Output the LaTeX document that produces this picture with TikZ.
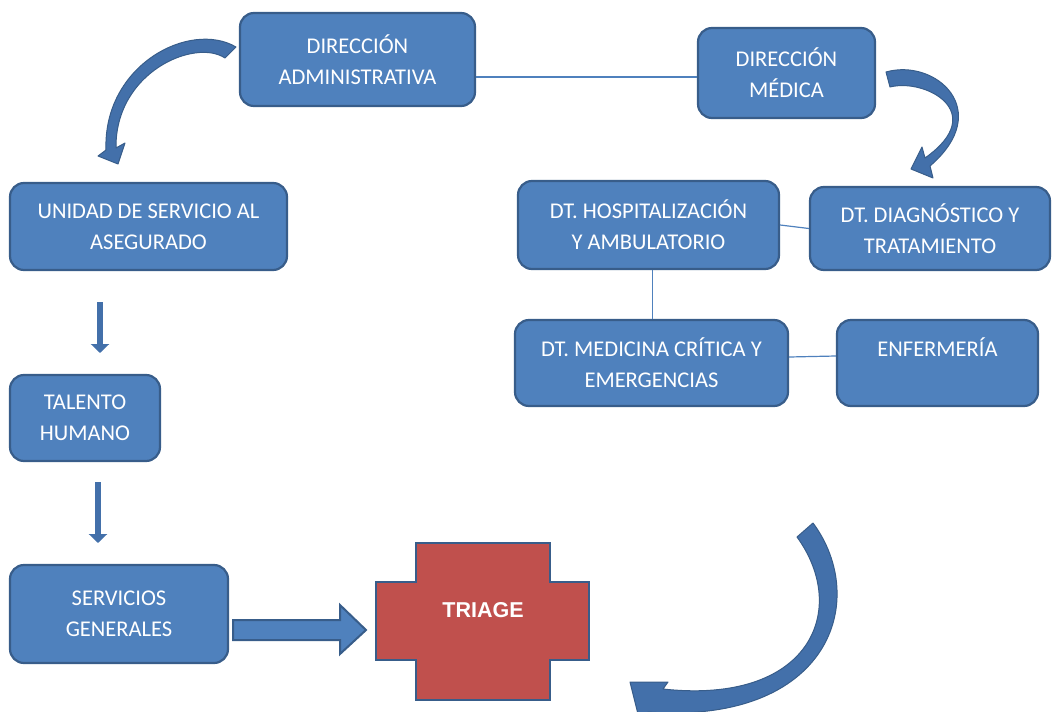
\documentclass[tikz,border=0pt]{standalone}
\usepackage{fontspec}
\setmainfont{Carlito}
\newfontfamily\arialb{Liberation Sans}
\usetikzlibrary{calc,arrows.meta}
\definecolor{boxblue}{HTML}{4F81BD}
\definecolor{boxedge}{HTML}{385D8A}
\definecolor{arcblue}{HTML}{4370AA}
\definecolor{triagered}{HTML}{C0504D}
\begin{document}
\begin{tikzpicture}[x=1pt,y=-1pt,
  box/.style={draw=boxedge, line width=2.2pt, fill=boxblue, rounded corners=14pt,
    text=white, align=center, font=\fontsize{22.5}{31}\selectfont, inner sep=0pt},
  link/.style={draw=boxblue, line width=1.2pt},
  curvarrow/.style={fill=arcblue, draw=boxedge, line width=1pt, line join=round},
  downarrow/.style={draw=arcblue, line width=6pt, -{Triangle[width=18pt,length=9pt]}, shorten >=0pt},
  blockarrow/.style={fill=boxblue, draw=boxedge, line width=2pt, line join=miter}]
\path[use as bounding box] (0,0) rectangle (1052,712);

% boxes
\node[box, minimum width=235pt, minimum height=93pt] (admin) at (357.5,59.5) {DIRECCIÓN\\ADMINISTRATIVA};
\node[box, minimum width=177pt, minimum height=90pt] (medica) at (786.5,73) {DIRECCIÓN\\MÉDICA};
\node[box, minimum width=277pt, minimum height=87pt] (unidad) at (148.5,226.5) {UNIDAD DE SERVICIO AL\\ASEGURADO};
\node[box, minimum width=150pt, minimum height=86pt] (talento) at (85,418) {TALENTO\\HUMANO};
\node[box, minimum width=218pt, minimum height=98pt] (servicios) at (119,614) {SERVICIOS\\GENERALES};
\node[box, minimum width=261pt, minimum height=88pt] (hosp) at (648.5,225) {DT. HOSPITALIZACIÓN\\Y AMBULATORIO};
\node[box, minimum width=240pt, minimum height=83pt] (diag) at (930,228.5) {DT. DIAGNÓSTICO Y\\TRATAMIENTO};
\node[box, minimum width=273pt, minimum height=86pt] (medicina) at (651.5,363) {DT. MEDICINA CRÍTICA Y\\EMERGENCIAS};
\node[box, minimum width=201pt, minimum height=86pt] (enf) at (937.5,363) {ENFERMERÍA\\\mbox{}};

% thin links
\draw[link] (admin.east |- {(0,77)}) -- (medica.west |- {(0,77)});
\draw[link] (hosp.east) -- (diag.west);
\draw[link] ($(hosp.south)+(4,0)$) -- ($(medicina.north)+(1,0)$);
\draw[link] ($(medicina.east)+(0,-6)$) -- ($(enf.west)+(0,-7)$);

% down arrows
\coordinate (d1a) at (100,302);
\coordinate (d1b) at (100,353);
\coordinate (d2a) at (98,482);
\coordinate (d2b) at (98,543);
\draw[downarrow] (d1a) -- (d1b);
\draw[downarrow] (d2a) -- (d2b);

% triage cross
\draw[fill=triagered, draw=boxedge, line width=2.5pt]
  (416,543) -- (550,543) -- (550,582) -- (589,582) -- (589,660) -- (550,660)
  -- (550,700) -- (416,700) -- (416,660) -- (376,660) -- (376,582) -- (416,582) -- cycle;
\node[text=white, font=\arialb\bfseries\fontsize{21.5}{26}\selectfont, inner sep=0pt] (triage) at (483,610) {TRIAGE};

% block arrow servicios -> triage
\draw[blockarrow] (233,620) -- (340,620) -- (340,605) -- (366,630) -- (340,654) -- (340,640) -- (233,640) -- cycle;

% curved arrow: admin -> unidad
\draw[curvarrow] (236,47) .. controls (190,20) and (103,65) .. (106,150)
  -- (98,156) -- (118,164) -- (125,143) -- (116,148)
  .. controls (115,72) and (195,38) .. (225,58) -- cycle;

% curved arrow: medica -> diag
\draw[curvarrow] (886,72) .. controls (935,58) and (995,110) .. (930,166)
  -- (933,178) -- (911,169) -- (922,147) -- (925,158)
  .. controls (990,112) and (925,78) .. (890,87) -- cycle;

% big curved arrow bottom right
\begin{scope}
\clip (0,0) rectangle (1052,712);
\draw[curvarrow] (813,523) .. controls (870,600) and (830,725) .. (648,712)
  -- (640,722) -- (630,682) -- (668,682) -- (663,689)
  .. controls (810,705) and (850,610) .. (797,537) -- cycle;
\end{scope}
\end{tikzpicture}
\end{document}
